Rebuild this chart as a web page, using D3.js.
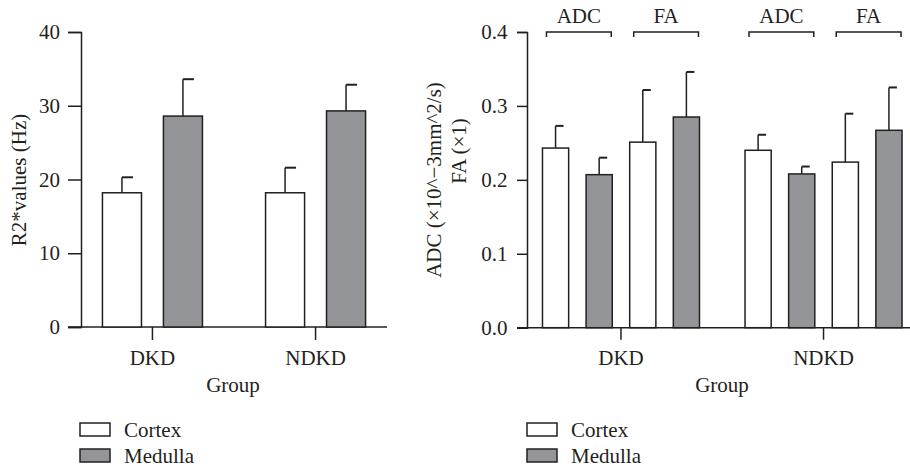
<!DOCTYPE html>
<html lang="en">
<head>
<meta charset="utf-8">
<title>R2* and ADC/FA by group</title>
<script src="https://cdn.jsdelivr.net/npm/d3@7"></script>
<style>
  body { margin: 0; background: #fff; }
</style>
</head>
<body>
<script>
// data
var groups = ["DKD", "NDKD"];
var tissues = ["Cortex", "Medulla"];
// left panel: R2* values (Hz), mean and mean+SD
var r2Mean = { DKD: [18.2, 28.6], NDKD: [18.2, 29.3] };
var r2Err  = { DKD: [20.3, 33.6], NDKD: [21.6, 32.85] };
var r2Ticks = [0, 10, 20, 30, 40];
// right panel: ADC and FA, order ADC cortex, ADC medulla, FA cortex, FA medulla
var metrics = ["ADC", "FA"];
var dtiMean = { DKD: [0.243, 0.207, 0.251, 0.285], NDKD: [0.240, 0.208, 0.224, 0.267] };
var dtiErr  = { DKD: [0.273, 0.230, 0.3215, 0.346], NDKD: [0.261, 0.218, 0.2895, 0.325] };
var dtiTicks = [0.0, 0.1, 0.2, 0.3, 0.4];

var W = 910, H = 467;
var ink = "#231f20", grey = "#939598";
var colors = { Cortex: "#ffffff", Medulla: grey };
var FONT = "'Liberation Serif', 'DejaVu Serif', serif";
var FS = 21;

var svg = d3.select("body").append("svg")
  .attr("width", W).attr("height", H)
  .attr("font-family", FONT).attr("font-size", FS).attr("fill", ink);

function label(g, x, y, s, anchor) {
  return g.append("text").attr("x", x).attr("y", y)
    .attr("text-anchor", anchor || "middle")
    .attr("font-family", FONT).attr("font-size", FS).attr("fill", ink)
    .text(s);
}

function axisY(g, y, ticks, fmt, len, pad) {
  g.call(d3.axisLeft(y).tickValues(ticks).tickFormat(fmt).tickSize(len).tickPadding(pad))
   .attr("font-family", FONT).attr("font-size", FS)
   .call(function(a) {
     a.selectAll("line, path").attr("stroke", ink).attr("stroke-width", 1.5);
     a.selectAll("text").attr("fill", ink);
   });
}

// ---------- left panel ----------
var y1 = d3.scaleLinear().domain([0, 40]).range([327, 32]);
var x1 = d3.scalePoint().domain(groups).range([81, 387]).padding(0.438);
var sub1 = d3.scaleBand().domain(tissues).range([-50, 50]).paddingInner(0.36);

var left = svg.append("g");
axisY(left.append("g").attr("transform", "translate(81,0)"), y1, r2Ticks, d3.format("d"), 13, 8);
// x baseline from tick end to right
left.append("line").attr("x1", 68).attr("x2", 387).attr("y1", y1(0)).attr("y2", y1(0))
  .attr("stroke", ink).attr("stroke-width", 1.5);

var rows1 = [];
groups.forEach(function(g) {
  tissues.forEach(function(t, i) {
    rows1.push({ g: g, t: t, v: r2Mean[g][i], e: r2Err[g][i] });
  });
});
function cx1(d) { return x1(d.g) + sub1(d.t) + sub1.bandwidth() / 2; }

left.selectAll("line.err").data(rows1).enter().append("line").attr("class", "err")
  .attr("x1", cx1).attr("x2", cx1)
  .attr("y1", function(d) { return y1(d.v); })
  .attr("y2", function(d) { return y1(d.e); })
  .attr("stroke", ink).attr("stroke-width", 1.5);
left.selectAll("line.cap").data(rows1).enter().append("line").attr("class", "cap")
  .attr("x1", cx1)
  .attr("x2", function(d) { return cx1(d) + 11; })
  .attr("y1", function(d) { return y1(d.e); })
  .attr("y2", function(d) { return y1(d.e); })
  .attr("stroke", ink).attr("stroke-width", 2);
left.selectAll("rect.bar").data(rows1).enter().append("rect").attr("class", "bar")
  .attr("x", function(d) { return x1(d.g) + sub1(d.t); })
  .attr("y", function(d) { return y1(d.v); })
  .attr("width", sub1.bandwidth())
  .attr("height", function(d) { return y1(0) - y1(d.v); })
  .attr("fill", function(d) { return colors[d.t]; })
  .attr("stroke", ink).attr("stroke-width", 1.5);

groups.forEach(function(g) {
  left.append("line").attr("x1", x1(g)).attr("x2", x1(g))
    .attr("y1", y1(0)).attr("y2", y1(0) + 13).attr("stroke", ink).attr("stroke-width", 1.5);
  label(left, x1(g), 365, g);
});
label(left, 233, 392, "Group");
label(left, 0, 0, "R2*values (Hz)").attr("transform", "translate(26,180) rotate(-90)");

// ---------- right panel ----------
var y2 = d3.scaleLinear().domain([0, 0.4]).range([327.7, 32]);
var x2 = d3.scalePoint().domain(groups).range([527, 917.5]).padding(0.464);
var barKeys = ["ADC-Cortex", "ADC-Medulla", "FA-Cortex", "FA-Medulla"];
var sub2 = d3.scaleBand().domain(barKeys).range([-78.5, 78.5]).paddingInner(0.4);

var right = svg.append("g");
axisY(right.append("g").attr("transform", "translate(527,0)"), y2, dtiTicks, d3.format(".1f"), 10, 9.5);
right.append("line").attr("x1", 517).attr("x2", 917).attr("y1", y2(0)).attr("y2", y2(0))
  .attr("stroke", ink).attr("stroke-width", 1.5);

var rows2 = [];
groups.forEach(function(g) {
  barKeys.forEach(function(k, i) {
    rows2.push({ g: g, k: k, t: k.split("-")[1], v: dtiMean[g][i], e: dtiErr[g][i] });
  });
});
function cx2(d) { return x2(d.g) + sub2(d.k) + sub2.bandwidth() / 2; }

right.selectAll("line.err").data(rows2).enter().append("line").attr("class", "err")
  .attr("x1", cx2).attr("x2", cx2)
  .attr("y1", function(d) { return y2(d.v); })
  .attr("y2", function(d) { return y2(d.e); })
  .attr("stroke", ink).attr("stroke-width", 1.5);
right.selectAll("line.cap").data(rows2).enter().append("line").attr("class", "cap")
  .attr("x1", cx2)
  .attr("x2", function(d) { return cx2(d) + 8; })
  .attr("y1", function(d) { return y2(d.e); })
  .attr("y2", function(d) { return y2(d.e); })
  .attr("stroke", ink).attr("stroke-width", 2);
right.selectAll("rect.bar").data(rows2).enter().append("rect").attr("class", "bar")
  .attr("x", function(d) { return x2(d.g) + sub2(d.k); })
  .attr("y", function(d) { return y2(d.v); })
  .attr("width", sub2.bandwidth())
  .attr("height", function(d) { return y2(0) - y2(d.v); })
  .attr("fill", function(d) { return colors[d.t]; })
  .attr("stroke", ink).attr("stroke-width", 1.5);

// brackets over each ADC / FA pair
groups.forEach(function(g) {
  metrics.forEach(function(m) {
    var a = x2(g) + sub2(m + "-Cortex") + 4;
    var b = x2(g) + sub2(m + "-Medulla") + sub2.bandwidth() - 1;
    var yb = y2(0.4);
    right.append("path")
      .attr("d", "M" + a + "," + (yb + 5) + "V" + yb + "H" + b + "V" + (yb + 5))
      .attr("fill", "none").attr("stroke", ink).attr("stroke-width", 1.5);
    label(right, (a + b) / 2, 23, m);
  });
  right.append("line").attr("x1", x2(g)).attr("x2", x2(g))
    .attr("y1", y2(0)).attr("y2", y2(0) + 12).attr("stroke", ink).attr("stroke-width", 1.5);
  label(right, x2(g), 365, g);
});
label(right, 722, 392, "Group");
var yl = label(right, 0, 0, "").attr("transform", "translate(441,180) rotate(-90)");
yl.append("tspan").attr("x", 0).attr("dy", 0).text("ADC (\u00d710^\u22123mm^2/s)");
yl.append("tspan").attr("x", 29).attr("dy", 25).text("FA (\u00d71)");

// ---------- legends ----------
[80, 527].forEach(function(lx) {
  var lg = svg.append("g").attr("transform", "translate(" + lx + ",0)");
  tissues.forEach(function(t, i) {
    var ly = 423 + i * 26;
    lg.append("rect").attr("x", 0).attr("y", ly).attr("width", 30).attr("height", 13)
      .attr("fill", colors[t]).attr("stroke", ink).attr("stroke-width", 1.5);
    label(lg, 44, ly + 13.5, t, "start");
  });
});
</script>
</body>
</html>
